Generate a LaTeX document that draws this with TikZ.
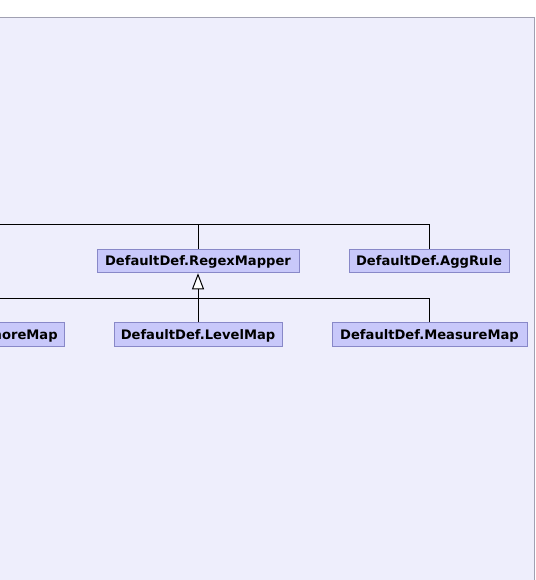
\documentclass[tikz,border=0pt]{standalone}
\usepackage{fontspec}
\setmainfont{DejaVu Sans}
\newfontfamily\nodefont{DejaVu Sans}
\usetikzlibrary{arrows.meta}
\definecolor{bgfill}{RGB}{238,238,252}
\definecolor{bgline}{RGB}{160,160,178}
\definecolor{boxfill}{RGB}{200,200,250}
\definecolor{boxline}{RGB}{136,136,200}
\tikzset{
  classbox/.style={draw=boxline, fill=boxfill, line width=1pt, inner sep=0pt,
    minimum height=23.5pt, text height=9.5pt, text depth=0pt,
    font=\nodefont\bfseries\fontsize{13.1pt}{15pt}\selectfont},
  edge/.style={draw=black, line width=1pt},
  inherit/.style={edge, -{Triangle[open, length=16pt, width=12pt, fill=white]}}
}
\begin{document}
\begin{tikzpicture}[x=1pt, y=-1pt]
\clip (0,0) rectangle (535,580);
\useasboundingbox (0,0) rectangle (535,580);
% background panel
\draw[fill=bgfill, draw=bgline, line width=1pt] (-20,17.5) -- (534,17.5) -- (534,600) -- (-20,600) -- cycle;
% nodes
\node[classbox, minimum width=202pt] (regex) at (198,261) {DefaultDef.RegexMapper};
\node[classbox, minimum width=160pt] (agg) at (429,261) {DefaultDef.AggRule};
\node[classbox, minimum width=176pt] (ignore) at (-24,334.5) {DefaultDef.IgnoreMap};
\node[classbox, minimum width=168pt] (level) at (198,334.5) {DefaultDef.LevelMap};
\node[classbox, minimum width=195pt] (measure) at (429.5,334.5) {DefaultDef.MeasureMap};
% coordinates
\coordinate (parentin) at (-30,224.5);
\coordinate (junction) at (198,298.5);
% upper edges (to parent off to the left)
\draw[edge] (regex.north) |- (parentin);
\draw[edge] (agg.north) |- (parentin);
% inheritance edges to RegexMapper
\draw[inherit] (level.north) -- (regex.south);
\draw[edge] (measure.north) |- (junction);
\draw[edge] (ignore.north) |- (junction);
\end{tikzpicture}
\end{document}
